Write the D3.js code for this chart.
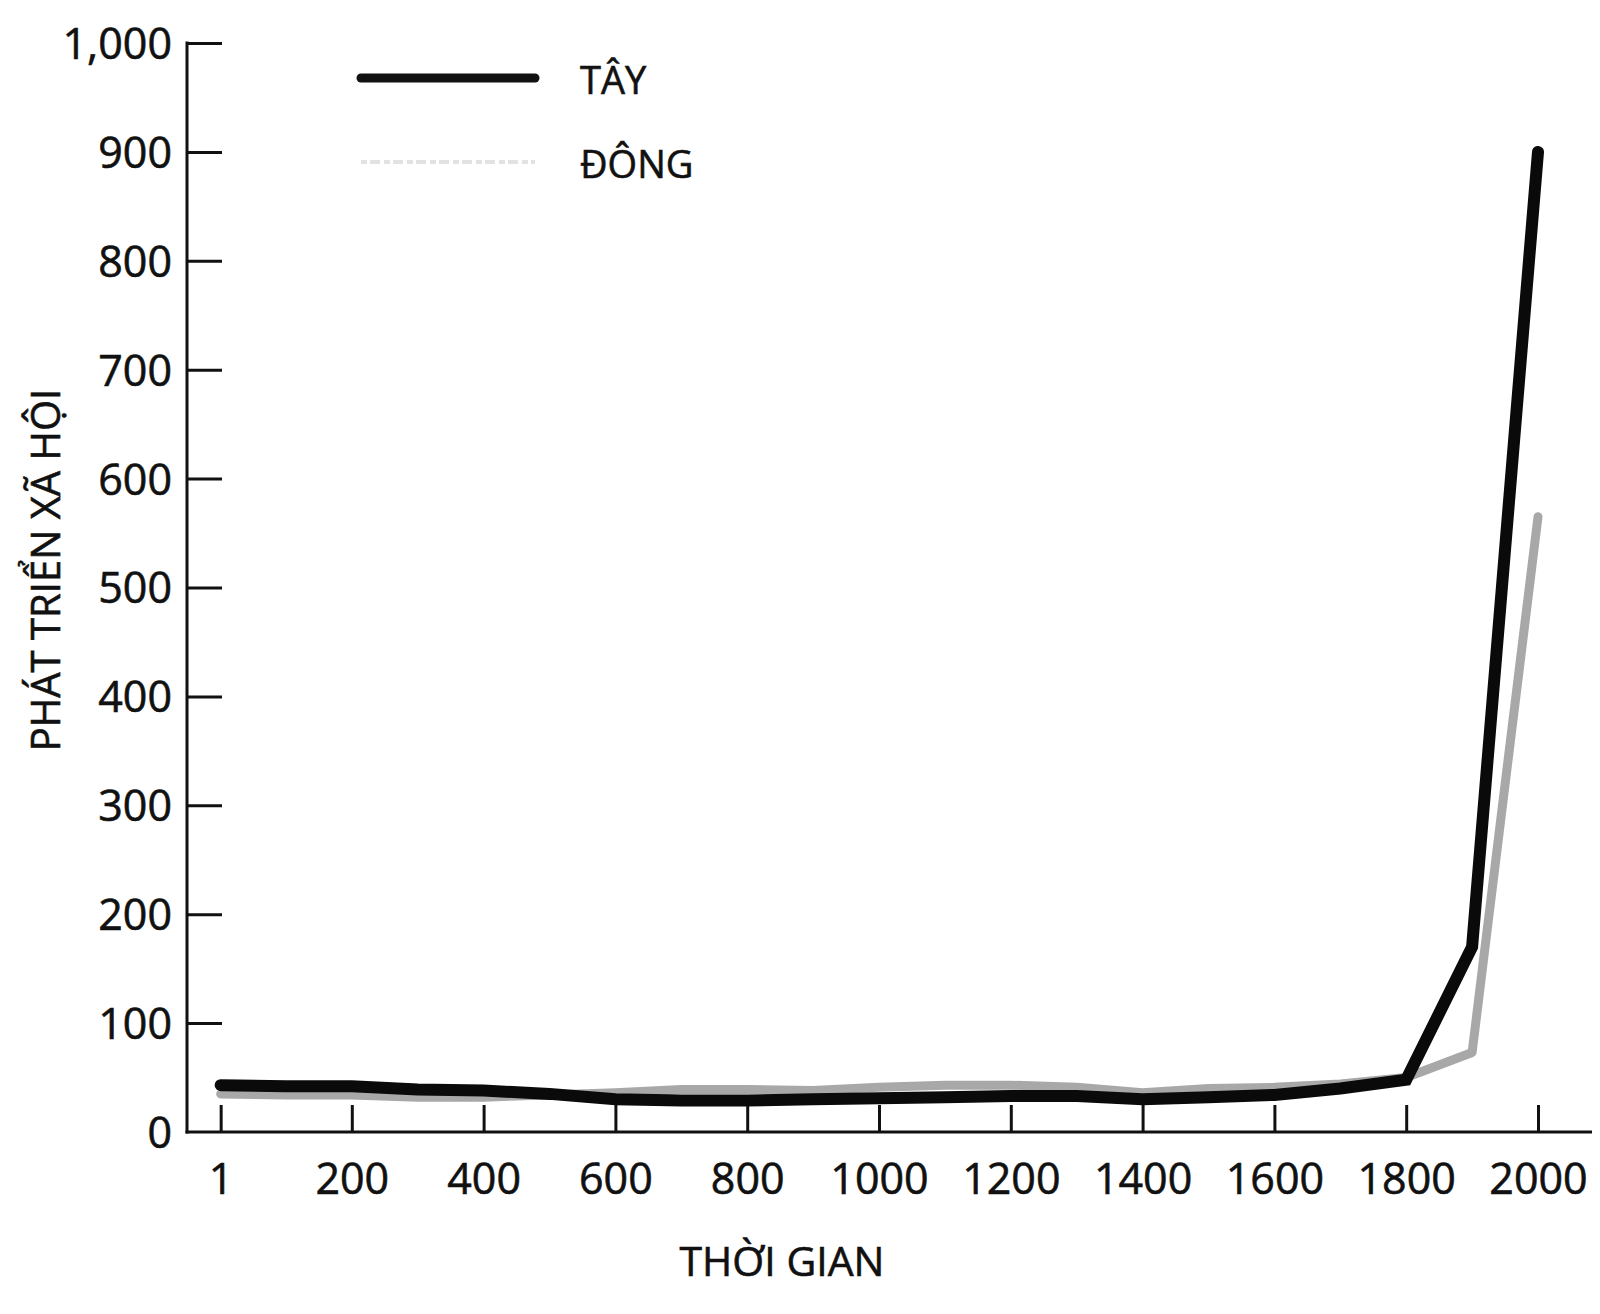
<!DOCTYPE html>
<html>
<head>
<meta charset="utf-8">
<script src="https://cdn.jsdelivr.net/npm/d3@7"></script>
<style>
  body { margin: 0; background: #fff; }
  svg text { font-family: 'Open Sans', 'Noto Sans', sans-serif; fill: #111; stroke: #111; stroke-width: 0.6px; }
</style>
</head>
<body>
<div id="chart"></div>
<script>
const years = [1, 100, 200, 300, 400, 500, 600, 700, 800, 900, 1000, 1100, 1200, 1300, 1400, 1500, 1600, 1700, 1800, 1900, 2000];
const west = [43, 42, 42, 39, 38, 35, 30, 29, 29, 30, 31, 32, 33, 33, 30, 32, 34, 40, 48, 170, 900];
const east = [35, 34, 34, 32, 32, 34, 36, 39, 39, 38, 41, 43, 43, 41, 36, 40, 41, 44, 50, 73, 565];
const xTicks = [1, 200, 400, 600, 800, 1000, 1200, 1400, 1600, 1800, 2000];
const yTicks = [0, 100, 200, 300, 400, 500, 600, 700, 800, 900, 1000];
const seriesNames = ['TÂY', 'ĐÔNG'];

const W = 1600, H = 1314;
const svg = d3.select('#chart').append('svg')
  .attr('width', W).attr('height', H);

const x = d3.scaleLinear().domain([0, 2000]).range([220, 1538]);
const y = d3.scaleLinear().domain([0, 1000]).range([1132, 43]);
const axisLeftX = 187;

// axis lines
svg.append('line')
  .attr('x1', axisLeftX).attr('x2', axisLeftX)
  .attr('y1', y(1000) - 1.5).attr('y2', y(0) + 1.5)
  .attr('stroke', '#111').attr('stroke-width', 3);
svg.append('line')
  .attr('x1', axisLeftX - 1.5).attr('x2', 1592)
  .attr('y1', y(0)).attr('y2', y(0))
  .attr('stroke', '#111').attr('stroke-width', 3);

// y ticks (pointing inward)
const yAxis = svg.append('g')
  .attr('transform', `translate(${axisLeftX},0)`)
  .call(d3.axisLeft(y).tickValues(yTicks).tickSize(-35)
    .tickFormat(d => d === 1000 ? '1,000' : d));
yAxis.select('.domain').remove();
yAxis.selectAll('.tick line').attr('stroke', '#111').attr('stroke-width', 3)
  .filter(d => d === 0).remove();
yAxis.selectAll('.tick text')
  .attr('x', -15)
  .attr('font-size', 43)
  .attr('dy', '0.36em')
  .attr('text-anchor', 'end');

// x ticks (pointing up)
const xAxis = svg.append('g')
  .attr('transform', `translate(0,${y(0)})`)
  .call(d3.axisBottom(x).tickValues(xTicks).tickSize(-27).tickFormat(d => d));
xAxis.select('.domain').remove();
xAxis.selectAll('.tick line').attr('stroke', '#111').attr('stroke-width', 3);
xAxis.selectAll('.tick text')
  .attr('y', 0)
  .attr('dy', 62)
  .attr('font-size', 43);

// axis titles
svg.append('text')
  .attr('transform', 'translate(60,570) rotate(-90)')
  .attr('text-anchor', 'middle')
  .attr('font-size', 40)
  .text('PHÁT TRIỂN XÃ HỘI');

svg.append('text')
  .attr('x', 782).attr('y', 1276)
  .attr('text-anchor', 'middle')
  .attr('font-size', 41)
  .text('THỜI GIAN');

// lines
const line = vals => d3.line()
  .x((d, i) => x(years[i]))
  .y(d => y(d))(vals);

svg.append('path')
  .attr('d', line(east))
  .attr('fill', 'none')
  .attr('stroke', '#a8a8a8')
  .attr('stroke-width', 9)
  .attr('stroke-linejoin', 'round')
  .attr('stroke-linecap', 'round');

svg.append('path')
  .attr('d', line(west))
  .attr('fill', 'none')
  .attr('stroke', '#0a0a0a')
  .attr('stroke-width', 12)
  .attr('stroke-linejoin', 'miter')
  .attr('stroke-linecap', 'round');

// legend
const legend = svg.append('g');
legend.append('line')
  .attr('x1', 361).attr('x2', 535).attr('y1', 78).attr('y2', 78)
  .attr('stroke', '#111').attr('stroke-width', 9).attr('stroke-linecap', 'round');
legend.append('line')
  .attr('x1', 361).attr('x2', 535).attr('y1', 162).attr('y2', 162)
  .attr('stroke', '#e2e2e2').attr('stroke-width', 4)
  .attr('stroke-dasharray', '6 3 10 4');
legend.selectAll('text.lg')
  .data(seriesNames)
  .join('text')
  .attr('class', 'lg')
  .attr('x', 580)
  .attr('y', (d, i) => 94 + i * 84)
  .attr('font-size', 38)
  .text(d => d);
</script>
</body>
</html>
